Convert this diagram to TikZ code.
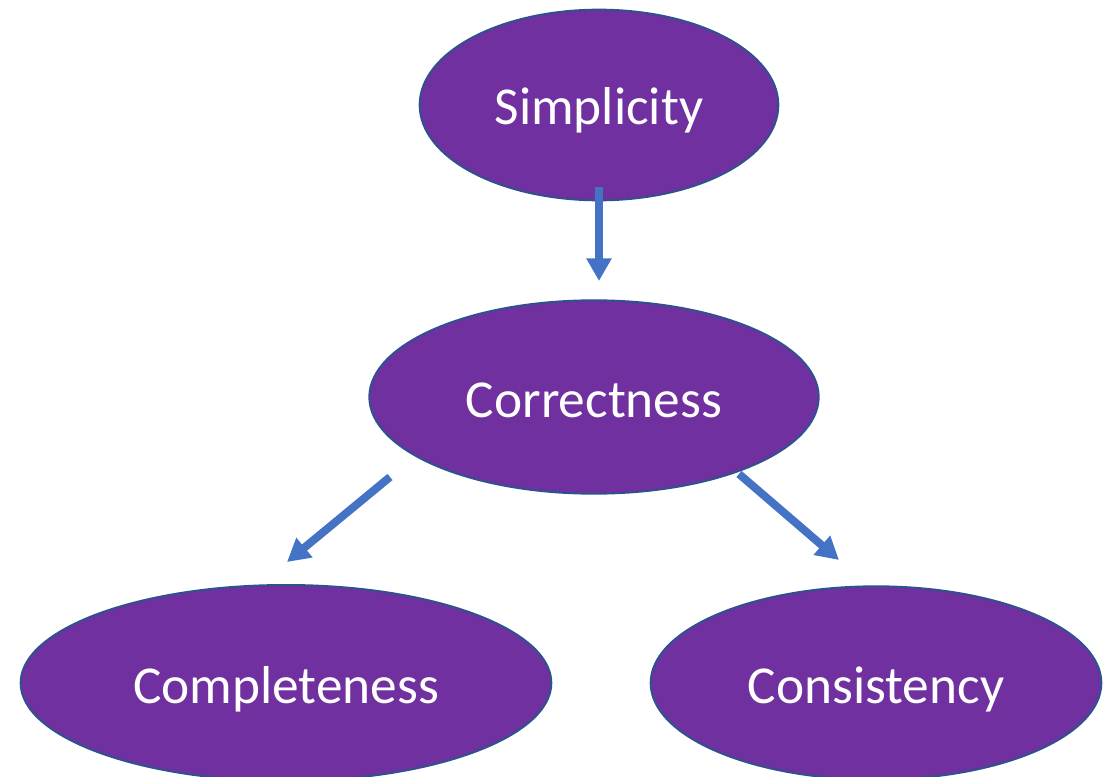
\documentclass[tikz,border=0pt]{standalone}
\usepackage{fontspec}
\setmainfont{Carlito}
\usepackage{xcolor}
\usetikzlibrary{shapes.geometric,arrows.meta}
\definecolor{fillp}{HTML}{7030A0}
\definecolor{edge}{HTML}{2F528F}
\definecolor{arrowc}{HTML}{4472C4}
\tikzset{
  bubble/.style={ellipse, fill=fillp, draw=edge, line width=1.5pt, inner sep=0pt,
    text=white, font=\fontsize{40}{48}\selectfont, text height=30pt, text depth=0pt},
  flow/.style={draw=arrowc, line width=6pt, -{Triangle[width=18pt,length=17pt]}},
}
\begin{document}
\begin{tikzpicture}[x=0.75pt,y=-0.75pt]
  \useasboundingbox (0,0) rectangle (1110,777);
  % px positions taken from the 1110x777 layout (1px = 0.75pt)
  \node[bubble, minimum width=269pt, minimum height=143pt] (simp) at (599,105) {Simplicity};
  \node[bubble, minimum width=337pt, minimum height=145pt] (corr) at (594,397) {Correctness};
  \node[bubble, minimum width=398pt, minimum height=147pt] (compl) at (286,683) {Completeness};
  \node[bubble, minimum width=338pt, minimum height=145pt] (cons) at (876,683) {Consistency};
  \coordinate (s0) at (599,187);
  \coordinate (s1) at (599,281);
  \coordinate (l0) at (390,477);
  \coordinate (l1) at (287,562);
  \coordinate (r0) at (739,474);
  \coordinate (r1) at (839,560);
  \draw[flow] (s0) -- (s1);
  \draw[flow] (l0) -- (l1);
  \draw[flow] (r0) -- (r1);
\end{tikzpicture}
\end{document}
